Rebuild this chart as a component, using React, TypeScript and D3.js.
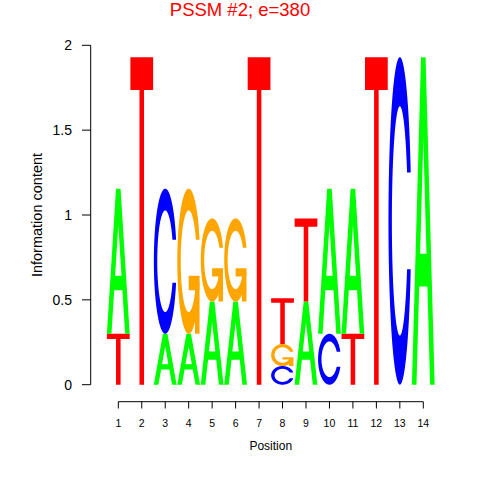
import React from "react";
import * as d3 from "d3";

const title = "PSSM #2; e=380";
const positions = [1, 2, 3, 4, 5, 6, 7, 8, 9, 10, 11, 12, 13, 14];
const letters = ["A", "C", "G", "T"];
const heightA = [0.855, 0, 0.3, 0.3, 0.49, 0.49, 0, 0, 0.49, 0.855, 0.855, 0, 0, 1.93];
const heightC = [0, 0, 0.855, 0, 0, 0, 0, 0.11, 0, 0.3, 0, 0, 1.93, 0];
const heightG = [0, 0, 0, 0.855, 0.49, 0.49, 0, 0.13, 0, 0, 0, 0, 0, 0];
const heightT = [0.3, 1.93, 0, 0, 0, 0, 1.93, 0.27, 0.49, 0, 0.3, 1.93, 0, 0];
const yTicks = [0, 0.5, 1, 1.5, 2];
const letterColors: Record<string, string> = {
  A: "#00FF00",
  C: "#0000FF",
  G: "#FFA500",
  T: "#FF0000",
};

type Pt = [number, number];

function seq(a: number, b: number, n: number) {
  return Array.from({ length: n }, (_, i) => a + ((b - a) * i) / (n - 1));
}

function cShape(): Pt[] {
  const a1 = seq(0.3 + Math.PI / 2, Math.PI, 100);
  const a2 = seq(Math.PI, 1.5 * Math.PI, 100);
  const xl = [...a1.map((a) => 0.5 + 0.5 * Math.sin(a)), ...a2.map((a) => 0.5 + 0.5 * Math.sin(a))];
  const yl1 = a1.map((a) => 0.5 + 0.5 * Math.cos(a));
  const yl = [...yl1, ...a2.map((a) => 0.5 + 0.5 * Math.cos(a))];
  const x = [...xl, ...xl.slice().reverse()];
  const y = [...yl, ...yl.slice().reverse().map((v) => 1 - v)];
  const maxY = Math.max(...yl1);
  let xi1 = a1.map((a) => 0.5 + 0.35 * Math.sin(a));
  let yi1 = a1.map((a) => 0.5 + 0.35 * Math.cos(a));
  const keep = yi1.map((v) => v <= maxY);
  xi1 = xi1.filter((_, i) => keep[i]);
  yi1 = yi1.filter((_, i) => keep[i]);
  yi1[0] = maxY;
  const xi = [...xi1, ...a2.map((a) => 0.5 + 0.35 * Math.sin(a))];
  const yi = [...yi1, ...a2.map((a) => 0.5 + 0.35 * Math.cos(a))];
  const x1 = [...xi, ...xi.slice().reverse()];
  const y1 = [...yi, ...yi.slice().reverse().map((v) => 1 - v)];
  const X = [...x, ...x1.slice().reverse()];
  const Y = [...y, ...y1.slice().reverse()];
  return X.map((v, i) => [v, Y[i]] as Pt);
}

function glyphs(letter: string): Pt[][] {
  if (letter === "A") {
    return [
      [[0, 0], [0.4, 1], [0.6, 1], [1, 0], [0.8, 0], [0.68, 0.3], [0.32, 0.3], [0.2, 0]],
      [[0.36, 0.4], [0.5, 0.75], [0.64, 0.4]],
    ];
  }
  if (letter === "T") {
    return [[[0, 1], [1, 1], [1, 0.9], [0.6, 0.9], [0.6, 0], [0.4, 0], [0.4, 0.9], [0, 0.9]]];
  }
  if (letter === "C") return [cShape()];
  const r1 = 0.5 + 0.5 * Math.sin(0.3 + Math.PI / 2);
  const h1 = 0.4;
  return [
    cShape(),
    [[r1, h1], [0.5, h1], [0.5, h1 - 0.1], [r1 - 0.2, h1 - 0.1], [r1 - 0.2, 0], [r1, 0], [r1, h1]],
  ];
}

export default function App() {
  const x = d3.scaleLinear().domain([1, 14]).range([118.3, 423.3]);
  const y = d3.scaleLinear().domain([0, 2]).range([384.7, 45.3]);
  const heights: Record<string, number[]> = { A: heightA, C: heightC, G: heightG, T: heightT };

  const marks: React.ReactNode[] = [];
  positions.forEach((p, pi) => {
    const stack = letters
      .map((l) => ({ l, h: heights[l][pi] }))
      .filter((d) => d.h > 0)
      .sort((a, b) => a.h - b.h);
    let base = 0;
    const x0 = x(p - 0.485);
    const w = x(p + 0.485) - x0;
    stack.forEach((d, si) => {
      const polys = glyphs(d.l);
      const line = d3
        .line<Pt>()
        .x((pt) => x0 + pt[0] * w)
        .y((pt) => y(base + pt[1] * d.h));
      if (d.l === "A") {
        marks.push(
          <path key={`${p}-${si}`} d={line(polys[0]) + "Z" + line(polys[1]) + "Z"} fill={letterColors[d.l]} fillRule="evenodd" />
        );
      } else {
        polys.forEach((poly, k) => {
          marks.push(<path key={`${p}-${si}-${k}`} d={line(poly) + "Z"} fill={letterColors[d.l]} />);
        });
      }
      base += d.h;
    });
  });

  const font = "Liberation Sans, Arial, sans-serif";
  return (
    <svg width={480} height={480} style={{ position: "absolute", left: 0, top: 0, background: "#fff" }}>
      <rect width={480} height={480} fill="#fff" />
      <text x={240} y={16} textAnchor="middle" fontFamily={font} fontSize={18.5} fill="#FF0000">
        {title}
      </text>
      {marks}
      <line x1={90.7} x2={90.7} y1={y(0)} y2={y(2)} stroke="#000" strokeWidth={1} />
      {yTicks.map((t) => (
        <g key={t}>
          <line x1={82} x2={90.7} y1={y(t)} y2={y(t)} stroke="#000" strokeWidth={1} />
          <text x={72} y={y(t) + 5} textAnchor="end" fontFamily={font} fontSize={14} fill="#000">
            {t}
          </text>
        </g>
      ))}
      <text transform={`translate(42,215) rotate(-90)`} textAnchor="middle" fontFamily={font} fontSize={14.5} fill="#000">
        Information content
      </text>
      <line x1={x(1)} x2={x(14)} y1={401.7} y2={401.7} stroke="#000" strokeWidth={1} />
      {positions.map((p) => (
        <g key={p}>
          <line x1={x(p)} x2={x(p)} y1={401.7} y2={408.5} stroke="#000" strokeWidth={1} />
          <text x={x(p)} y={427} textAnchor="middle" fontFamily={font} fontSize={10.5} fill="#000">
            {p}
          </text>
        </g>
      ))}
      <text x={x(7.5)} y={450} textAnchor="middle" fontFamily={font} fontSize={12} fill="#000">
        Position
      </text>
    </svg>
  );
}
